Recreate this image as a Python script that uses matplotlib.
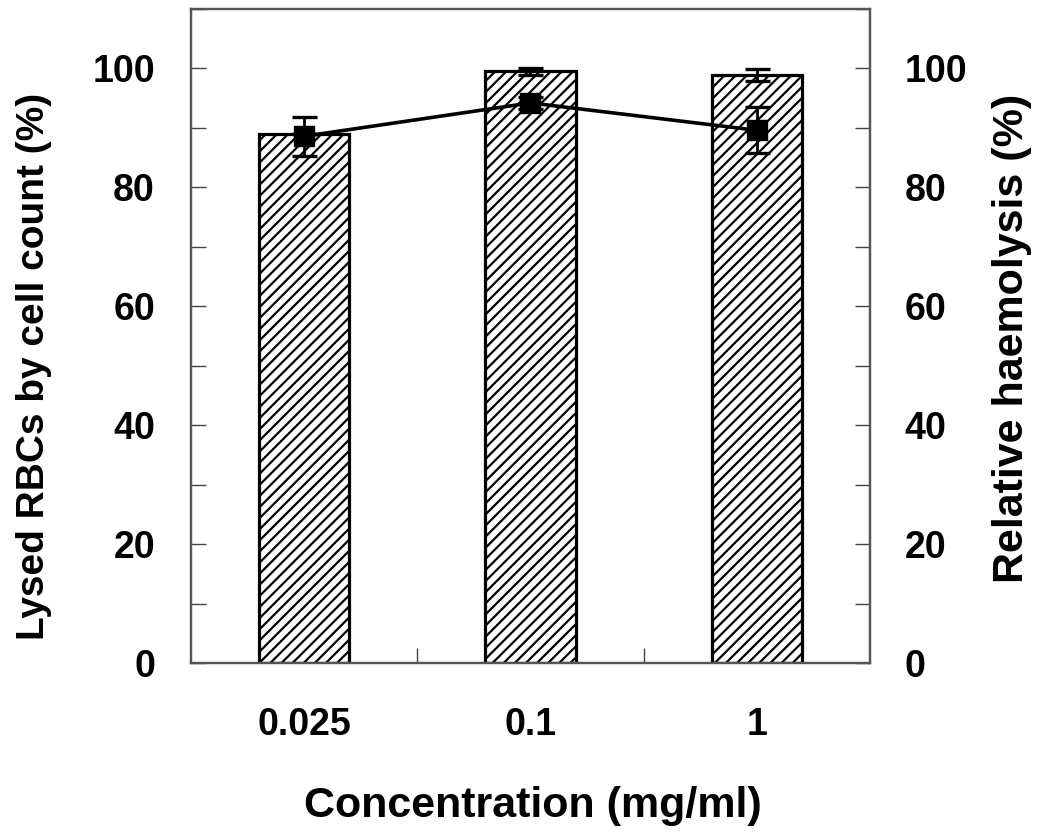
import matplotlib
matplotlib.use("Agg")
import matplotlib.pyplot as plt
import numpy as np

# data
concentrations = ["0.025", "0.1", "1"]
lysed_count = [88.9, 99.5, 98.9]       # bars, left axis
lysed_count_err = [0.0, 0.6, 1.0]
haemolysis = [88.6, 94.2, 89.6]        # line, right axis
haemolysis_err = [3.3, 1.0, 3.9]

plt.rcParams["font.family"] = ["Liberation Sans", "DejaVu Sans"]
plt.rcParams["font.weight"] = "bold"
plt.rcParams["hatch.linewidth"] = 1.6
plt.rcParams["hatch.color"] = "black"

fig = plt.figure(figsize=(10.5, 8.36), dpi=100)
ax = fig.add_axes([191/1050, 1-663/836, (870-191)/1050, (663-9)/836])
ax2 = ax.twinx()

x = np.arange(len(concentrations))

ax.bar(x, lysed_count, width=0.4, color="white", edgecolor="black",
       linewidth=2.3, hatch="///", zorder=2)
ax.errorbar(x, lysed_count, yerr=lysed_count_err, fmt="none", ecolor="black",
            elinewidth=2, capsize=9, capthick=2.4, zorder=3)

ax2.errorbar(x, haemolysis, yerr=haemolysis_err, color="black", marker="s",
             markersize=14, linewidth=2.6, elinewidth=2, capsize=9,
             capthick=2.4)

for a in (ax, ax2):
    a.set_ylim(0, 110)
    a.set_xlim(-0.5, 2.5)
    a.set_yticks(np.arange(0, 101, 20))
    a.set_yticks(np.arange(0, 111, 10), minor=True)
    a.tick_params(axis="y", which="both", direction="in", length=11,
                  width=1, color="#444444", labelsize=27)
    for s in a.spines.values():
        s.set_color("#555555")
        s.set_linewidth(1.6)

ax.tick_params(axis="y", pad=26)
ax2.tick_params(axis="y", pad=25)

ax.set_xticks(x)
ax.set_xticklabels(concentrations)
ax.set_xticks([0.5, 1.5], minor=True)
ax.tick_params(axis="x", which="both", direction="in", length=11, width=1,
               color="#444444", labelsize=27, pad=32)

ax.set_xlabel("Concentration (mg/ml)", fontsize=31, fontweight="bold")
ax.xaxis.set_label_coords(0.503, -0.188)
ax.set_ylabel("Lysed RBCs by cell count (%)", fontsize=28, fontweight="bold")
ax.yaxis.set_label_coords(-0.205, 0.453)
ax2.set_ylabel("Relative haemolysis (%)", fontsize=31, fontweight="bold")
ax2.yaxis.set_label_coords(1.18, 0.497)

fig.savefig("out.png", dpi=100)
